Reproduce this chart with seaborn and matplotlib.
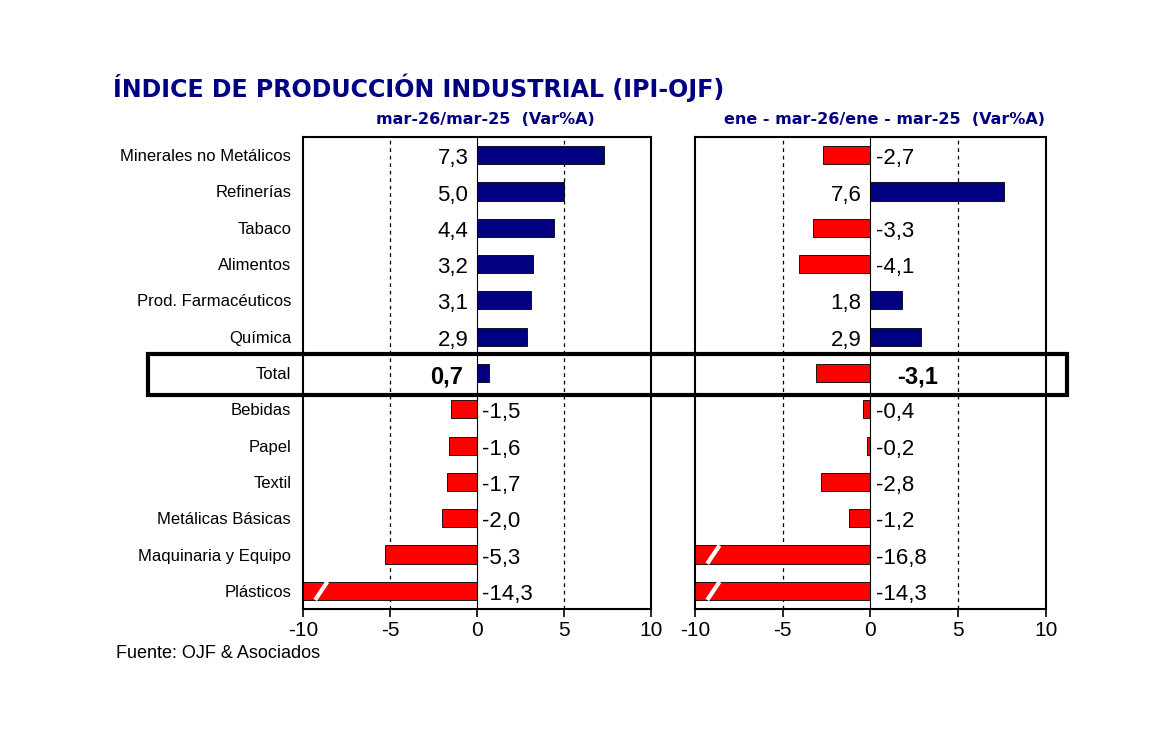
import numpy as np
import pandas as pd
import matplotlib
matplotlib.use("Agg")
import matplotlib.pyplot as plt
import seaborn as sns
from matplotlib.patches import Rectangle

# Data
categorias = ["Minerales no Metálicos", "Refinerías", "Tabaco", "Alimentos",
              "Prod. Farmacéuticos", "Química", "Total", "Bebidas", "Papel",
              "Textil", "Metálicas Básicas", "Maquinaria y Equipo", "Plásticos"]
var_mes = [7.3, 5.0, 4.4, 3.2, 3.1, 2.9, 0.7, -1.5, -1.6, -1.7, -2.0, -5.3, -14.3]
var_acum = [-2.7, 7.6, -3.3, -4.1, 1.8, 2.9, -3.1, -0.4, -0.2, -2.8, -1.2, -16.8, -14.3]
x_ticks = [-10, -5, 0, 5, 10]

titulo = "ÍNDICE DE PRODUCCIÓN INDUSTRIAL (IPI-OJF)"
sub_izq = "mar-26/mar-25  (Var%A)"
sub_der = "ene - mar-26/ene - mar-25  (Var%A)"
fuente = "Fuente: OJF & Asociados"

NAVY = "#000080"
RED = "#ff0000"

sns.set_theme(style="white")
plt.rcParams["font.family"] = ["Liberation Sans", "DejaVu Sans"]
plt.rcParams["text.color"] = "black"
plt.rcParams["xtick.color"] = "black"
plt.rcParams["ytick.color"] = "black"
plt.rcParams["xtick.labelcolor"] = "black"
plt.rcParams["ytick.labelcolor"] = "black"

fig = plt.figure(figsize=(11.69, 7.51), dpi=100)
ax1 = fig.add_axes([0.2592, 0.1891, 0.2977, 0.6285])
ax2 = fig.add_axes([0.5945, 0.1891, 0.3003, 0.6285])


def draw_panel(ax, values, show_labels):
    df = pd.DataFrame({"cat": categorias, "val": values})
    df["signo"] = np.where(df["val"] >= 0, "pos", "neg")
    sns.barplot(data=df, y="cat", x="val", hue="signo", orient="h",
                palette={"pos": NAVY, "neg": RED}, dodge=False, legend=False,
                width=0.5, edgecolor="black", linewidth=0.6, ax=ax, saturation=1)
    ax.set_xlim(-10, 10)
    ax.set_ylim(12.5, -0.5)
    ax.set_xticks(x_ticks)
    ax.set_xticklabels([str(t) for t in x_ticks], fontsize=15)
    ax.axvline(-5, color="black", ls=(0, (3, 3)), lw=0.9, zorder=0)
    ax.axvline(5, color="black", ls=(0, (3, 3)), lw=0.9, zorder=0)
    ax.axvline(0, color="black", lw=0.8, zorder=3)
    ax.tick_params(axis="x", direction="out", length=6, width=1.2, color="black",
                   bottom=True, pad=3)
    ax.tick_params(axis="y", length=0, pad=8.5)
    ax.set_xlabel("")
    ax.set_ylabel("")
    if show_labels:
        ax.set_yticks(range(len(categorias)))
        ax.set_yticklabels(categorias, fontsize=12)
    else:
        ax.set_yticks([])
    for s in ax.spines.values():
        s.set_color("black")
        s.set_linewidth(1.5)
    for i, v in enumerate(values):
        txt = f"{v:.1f}".replace(".", ",")
        y = i + 0.1
        if categorias[i] == "Total":
            if v >= 0:
                ax.text(-0.8, y, txt, ha="right", va="center", fontsize=17,
                        fontweight="bold")
            else:
                ax.text(1.5, y, txt, ha="left", va="center", fontsize=17,
                        fontweight="bold")
        elif v >= 0:
            ax.text(-0.5, y, txt, ha="right", va="center", fontsize=16)
        else:
            ax.text(0.3, y, txt, ha="left", va="center", fontsize=16)
        if v < -10:
            # break mark on truncated bars
            ax.plot([-9.3, -8.6], [i + 0.25, i - 0.25], color="white", lw=3,
                    solid_capstyle="butt", zorder=5, clip_on=True)


draw_panel(ax1, var_mes, True)
draw_panel(ax2, var_acum, False)

# frame around the Total row
fig.add_artist(Rectangle((148 / 1169, 1 - 395 / 751), (1067 - 148) / 1169,
                         (395 - 354) / 751, fill=False, edgecolor="black",
                         lw=3, transform=fig.transFigure))

t = fig.text(113 / 1169, 1 - 88 / 751, titulo, ha="left", va="center",
             fontsize=20, fontweight="bold", color=NAVY, family="DejaVu Sans")
# shrink the title so it spans the same width as in the reference
fig.canvas.draw()
w = t.get_window_extent().width
t.set_fontsize(20 * 612 / w)

fig.text(485 / 1169, 1 - 119 / 751, sub_izq, ha="center", va="center",
         fontsize=11.5, fontweight="bold", color=NAVY, family="DejaVu Sans")
fig.text(885 / 1169, 1 - 119 / 751, sub_der, ha="center", va="center",
         fontsize=11.5, fontweight="bold", color=NAVY, family="DejaVu Sans")
fig.text(116 / 1169, 1 - 653 / 751, fuente, ha="left", va="center", fontsize=13)

fig.savefig("out.png", dpi=100, facecolor="white")
